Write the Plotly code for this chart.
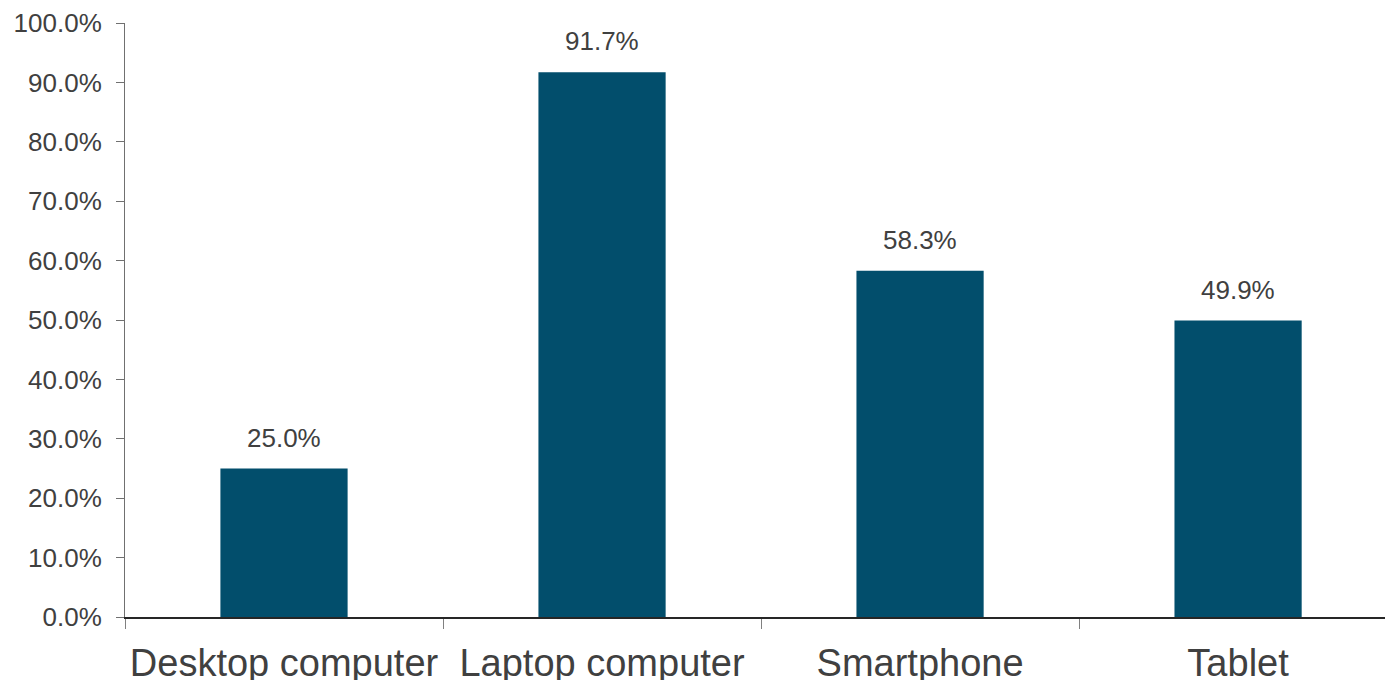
import plotly.graph_objects as go

categories = ["Desktop computer", "Laptop computer", "Smartphone", "Tablet"]
values = [25.0, 91.7, 58.3, 49.9]
y_ticks = [0, 10, 20, 30, 40, 50, 60, 70, 80, 90, 100]
y_tick_text = [f"{v:.1f}%" for v in y_ticks]

bar_color = "#024E6C"
text_color = "#404040"
font_family = "Liberation Sans, Arial, sans-serif"

fig = go.Figure()
fig.add_trace(go.Bar(
    x=categories, y=values, marker_color=bar_color, width=0.4,
    marker_line_width=0, hoverinfo="skip",
))
for c, v in zip(categories, values):
    fig.add_annotation(x=c, y=v, text=f"{v:.1f}%", showarrow=False,
                       yanchor="bottom", yshift=14,
                       font=dict(size=26, color=text_color, family=font_family))

fig.update_layout(
    width=1385, height=680,
    margin=dict(l=125, r=0, t=23, b=63, autoexpand=False),
    plot_bgcolor="white", paper_bgcolor="white",
    showlegend=False,
    font=dict(family=font_family, color=text_color),
)
fig.update_xaxes(
    range=[-0.5, 3.462], showgrid=False, showline=True, linecolor="#262626", linewidth=1.5,
    ticks="outside", tickson="boundaries", ticklen=10, tickcolor="#808080", tickwidth=1,
    tickfont=dict(size=38, color=text_color, family=font_family),
    ticklabelstandoff=12, automargin=False,
)
fig.update_yaxes(
    range=[0, 100], tickvals=y_ticks, ticktext=y_tick_text, showgrid=False,
    showline=True, linecolor="#707070", linewidth=1, zeroline=False,
    ticks="outside", ticklen=8, tickcolor="#707070",
    tickfont=dict(size=26, color=text_color, family=font_family),
    ticklabelstandoff=9, automargin=False,
)
fig.write_html(
    "out.html",
    config={"displayModeBar": False},
    post_script="document.body.style.margin='0';document.body.style.overflow='hidden';",
)
